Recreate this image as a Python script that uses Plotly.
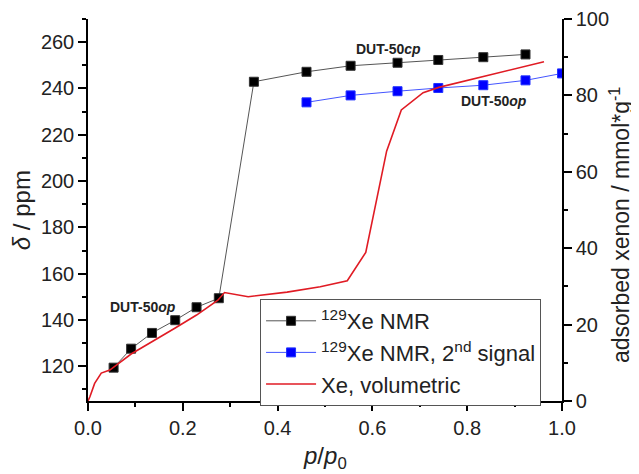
import plotly.graph_objects as go

# ---- data ----
nmr_x = [0.054, 0.091, 0.135, 0.184, 0.229, 0.276, 0.350, 0.461, 0.554, 0.653, 0.739, 0.834, 0.923]
nmr_y = [119.4, 127.6, 134.4, 139.9, 145.5, 149.4, 242.9, 247.2, 249.8, 251.1, 252.3, 253.5, 254.7]

nmr2_x = [0.461, 0.554, 0.653, 0.739, 0.834, 0.923, 1.0]
nmr2_y = [234.0, 237.0, 238.8, 240.2, 241.4, 243.5, 246.5]

vol_x = [0.0, 0.004, 0.014, 0.028, 0.046, 0.091, 0.184, 0.229, 0.274, 0.288, 0.338,
         0.42, 0.49, 0.547, 0.586, 0.630, 0.661, 0.707, 0.74, 0.834, 0.911, 0.962]
vol_y = [0.0, 1.1, 4.6, 7.3, 8.1, 12.3, 19.1, 22.5, 26.4, 28.4, 27.3,
         28.5, 29.9, 31.5, 38.9, 65.4, 76.2, 80.7, 82.1, 84.9, 87.1, 88.8]

labels = ["DUT-50<i>cp</i>", "DUT-50<i>op</i>", "DUT-50<i>op</i>"]
label_x = [0.635, 0.857, 0.116]
label_y = [257.0, 234.7, 145.5]

FONT = "Arial, 'Liberation Sans', sans-serif"
TXT = "#222222"

fig = go.Figure()
fig.add_trace(go.Scatter(
    x=nmr_x, y=nmr_y, mode="lines+markers",
    name="<sup>129</sup>Xe NMR",
    line=dict(color="#555555", width=1),
    marker=dict(symbol="square", size=9, color="black", line=dict(color="#333333", width=1)),
))
fig.add_trace(go.Scatter(
    x=nmr2_x, y=nmr2_y, mode="lines+markers",
    name="<sup>129</sup>Xe NMR, 2<sup>nd</sup> signal",
    line=dict(color="#4455ff", width=1),
    marker=dict(symbol="square", size=9, color="#0000ff", line=dict(color="#2233ff", width=1)),
))
fig.add_trace(go.Scatter(
    x=vol_x, y=vol_y, mode="lines", yaxis="y2",
    name="Xe, volumetric",
    line=dict(color="#e01b24", width=1.6),
))

for t, x, y in zip(labels, label_x, label_y):
    fig.add_annotation(x=x, y=y, xref="x", yref="y", text="<b>" + t + "</b>",
                       showarrow=False, font=dict(family=FONT, size=14, color=TXT))

# axis titles as annotations for exact placement
fig.add_annotation(x=0.5, y=-0.148, xref="paper", yref="paper", text="<i>p</i>/<i>p</i><sub>0</sub>",
                   showarrow=False, xanchor="center", yanchor="middle",
                   font=dict(family=FONT, size=24, color=TXT))
fig.add_annotation(x=-0.141, y=0.5, xref="paper", yref="paper", text="<i>δ</i> / ppm",
                   showarrow=False, textangle=-90, xanchor="center", yanchor="middle",
                   font=dict(family=FONT, size=24, color=TXT))
fig.add_annotation(x=1.122, y=0.46, xref="paper", yref="paper", text="adsorbed xenon / mmol*g<sup>-1</sup>",
                   showarrow=False, textangle=-90, xanchor="center", yanchor="middle",
                   font=dict(family=FONT, size=23, color=TXT))

axis_common = dict(
    showline=True, linecolor="black", linewidth=1.5, mirror=False,
    ticks="outside", ticklen=8, tickwidth=1.5, tickcolor="black",
    showgrid=False, zeroline=False, automargin=False,
    tickfont=dict(family=FONT, size=20, color=TXT),
)

# the page body adds an 8px offset, so the figure is 8px smaller than the window
fig.update_layout(
    width=631, height=466,
    margin=dict(l=80, r=77, t=11, b=73),
    paper_bgcolor="white", plot_bgcolor="white",
    font=dict(family=FONT, color=TXT),
    showlegend=True,
    legend=dict(
        x=0.363, y=0.267, xanchor="left", yanchor="top",
        bordercolor="#555555", borderwidth=1, bgcolor="white",
        font=dict(family=FONT, size=22, color=TXT),
        tracegroupgap=0, itemwidth=50,
    ),
    xaxis=dict(
        range=[0, 1.0], dtick=0.2, tickformat=".1f",
        minor=dict(ticks="outside", dtick=0.1, ticklen=4, tickcolor="black"),
        **axis_common,
    ),
    yaxis=dict(
        range=[105, 270], tick0=120, dtick=20,
        minor=dict(ticks="outside", dtick=10, ticklen=4, tickcolor="black"),
        **axis_common,
    ),
    yaxis2=dict(
        range=[0, 100], dtick=20, overlaying="y", side="right",
        minor=dict(ticks="outside", dtick=10, ticklen=4, tickcolor="black"),
        **axis_common,
    ),
)

fig.write_html("out.html")
